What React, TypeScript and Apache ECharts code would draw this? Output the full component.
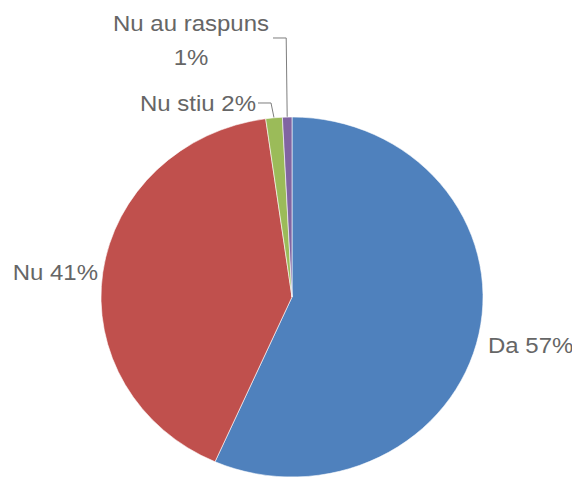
import React, { useEffect, useRef } from "react";
import * as echarts from "echarts";

const categories = ["Da", "Nu", "Nu stiu", "Nu au raspuns"];
const values = [56.6, 41.2, 1.4, 0.8];
const labelPercents = [57, 41, 2, 1];
const colors = ["#4F81BD", "#C0504D", "#9BBB59", "#8064A2"];

const W = 572;
const H = 477;
const SY = 180 / 191; // vertical squash to mimic the elliptical pie
const CH = H / SY;

export default function App() {
  const ref = useRef<HTMLDivElement>(null);
  useEffect(() => {
    if (!ref.current) return;
    const chart = echarts.init(ref.current, null, { renderer: "svg" });
    const cx = 292;
    const cy = 297 / SY;
    const r = 191;
    const sy = (v: number) => v / SY;
    chart.setOption({
      animation: false,
      backgroundColor: "#ffffff",
      series: [
        {
          type: "pie",
          center: [cx, cy],
          radius: r,
          startAngle: 90,
          clockwise: true,
          avoidLabelOverlap: false,
          itemStyle: { borderColor: "#ffffff", borderWidth: 0.6 },
          label: {
            show: true,
            position: "outside",
            color: "#666666",
            fontFamily: "Liberation Sans",
            fontSize: 24,
            lineHeight: 36,
          },
          labelLine: {
            show: true,
            lineStyle: { color: "#7a7a7a", width: 1 },
          },
          labelLayout: (params: any) => {
            const i = params.dataIndex;
            const p0 = params.labelLinePoints ? params.labelLinePoints[0] : [cx, cy - r];
            if (i === 0) {
              return { x: 488, y: sy(345), align: "left", verticalAlign: "middle" };
            }
            if (i === 1) {
              return { x: 98, y: sy(272), align: "right", verticalAlign: "middle" };
            }
            if (i === 2) {
              const ly = sy(103);
              return {
                x: 256,
                y: ly,
                align: "right",
                verticalAlign: "middle",
                labelLinePoints: [p0, [p0[0] - 3, ly], [258, ly]],
              };
            }
            const ly = sy(38);
            return {
              x: 191,
              y: sy(40),
              align: "center",
              verticalAlign: "middle",
              labelLinePoints: [p0, [p0[0] - 1, ly], [273, ly]],
            };
          },
          data: categories.map((name, i) => ({
            name,
            value: values[i],
            itemStyle: { color: colors[i] },
            label: {
              formatter: i === 3 ? `${name}\n${labelPercents[i]}%` : `${name} ${labelPercents[i]}%`,
              align: i === 3 ? "center" : undefined,
            },
            labelLine: { show: i >= 2 },
          })),
        },
      ],
    });
    return () => chart.dispose();
  }, []);
  return (
    <div
      style={{
        position: "fixed",
        left: 0,
        top: 0,
        width: W,
        height: H,
        overflow: "hidden",
        background: "#fff",
      }}
    >
      <div
        ref={ref}
        style={{
          width: W,
          height: CH,
          transform: `scaleY(${SY})`,
          transformOrigin: "0 0",
        }}
      />
    </div>
  );
}
